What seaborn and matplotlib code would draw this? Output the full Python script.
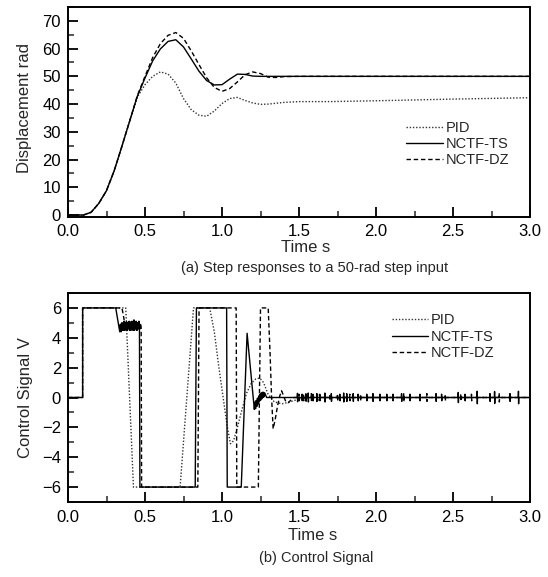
import numpy as np
import pandas as pd
import matplotlib
matplotlib.use("Agg")
import matplotlib.pyplot as plt
import seaborn as sns
from matplotlib.ticker import MultipleLocator

sns.set_style("white")
plt.rcParams['font.family'] = ['Liberation Sans', 'DejaVu Sans']

# ---------------- (a) step responses ----------------
t_step = [0.00, 0.10, 0.15, 0.20, 0.25, 0.30, 0.35, 0.40, 0.45, 0.50, 0.55, 0.60,
          0.65, 0.70, 0.75, 0.80, 0.85, 0.90, 0.95, 1.00, 1.05, 1.10, 1.15, 1.20,
          1.25, 1.30, 1.35, 1.40, 1.50, 1.70, 2.00, 2.50, 3.00]
y_pid = [0, 0, 1.0, 4.2, 8.8, 16.0, 24.8, 33.8, 42.5, 47.0, 50.0, 51.6,
         50.8, 47.6, 42.0, 38.0, 36.0, 35.6, 37.5, 40.2, 42.0, 42.4, 41.3, 40.4,
         39.9, 40.0, 40.3, 40.6, 40.9, 40.9, 41.2, 41.8, 42.3]
y_ts = [0, 0, 1.0, 4.2, 8.8, 16.0, 24.8, 33.8, 42.8, 49.4, 55.6, 59.9,
        62.6, 63.2, 60.6, 56.3, 51.9, 48.5, 46.9, 47.0, 49.0, 50.8, 50.7, 50.1,
        50.0, 50.0, 50.0, 50.0, 50.0, 50.0, 50.0, 50.0, 50.0]
y_dz = [0, 0, 1.0, 4.2, 8.8, 16.0, 24.8, 33.8, 43.0, 50.0, 56.8, 61.8,
        64.8, 65.8, 63.7, 59.2, 54.3, 49.5, 46.0, 44.6, 45.6, 48.0, 50.6, 51.6,
        51.0, 49.7, 49.6, 49.9, 50.0, 50.0, 50.0, 50.0, 50.0]

# ---------------- (b) control signals ----------------
t_u_pid = [0, 0.095, 0.095, 0.375, 0.425, 0.728, 0.815, 0.92, 0.95, 0.98, 1.01,
           1.035, 1.055, 1.075, 1.10, 1.13, 1.16, 1.19, 1.22, 1.245, 1.27, 1.30,
           1.34, 1.39, 1.44, 1.50, 1.56, 3.0]
u_pid = [0, 0, 6, 6, -6, -6, 6, 6, 4.4, 2.0, -0.2,
         -2.0, -3.1, -2.9, -2.0, -0.8, 0.3, 0.95, 1.25, 1.3, 1.0, 0.2,
         -0.3, -0.42, -0.3, -0.1, 0, 0]

t_u_ts = [0, 0.095, 0.095, 0.310, 0.318, 0.326, 0.332,
          0.336, 0.340, 0.344, 0.348, 0.352, 0.356, 0.360, 0.364, 0.368, 0.372,
          0.376, 0.380, 0.384, 0.388, 0.392, 0.396, 0.400, 0.404, 0.408, 0.412,
          0.416, 0.420, 0.424, 0.428, 0.432, 0.436, 0.440, 0.444, 0.448, 0.452,
          0.456, 0.460, 0.464, 0.467, 0.826, 0.834, 1.030, 1.034, 1.125, 1.163,
          1.210, 1.214, 1.218, 1.222, 1.226, 1.230, 1.234, 1.238, 1.242, 1.246,
          1.250, 1.254, 1.258, 1.262, 1.266, 1.270, 1.274, 1.278, 1.290, 1.480]
u_ts = [0, 0, 6, 6, 5.5, 5.0, 4.6,
        4.4, 4.9, 4.4, 5.0, 4.5, 5.0, 4.5, 5.1, 4.5, 5.0,
        4.6, 5.1, 4.5, 5.0, 4.6, 5.1, 4.5, 5.0, 4.6, 5.1,
        4.5, 5.0, 4.6, 5.2, 4.5, 5.0, 4.6, 5.1, 4.5, 5.0,
        4.6, 5.1, 4.7, -6.0, -6.0, 6.0, 6.0, -6.0, -6.0, 4.3,
        -0.8, -0.3, -0.75, -0.2, -0.6, -0.05, -0.45, 0.1, -0.3, 0.2,
        -0.2, 0.3, -0.1, 0.35, 0.0, 0.35, 0.05, 0.3, 0.0, 0.0]
spike_t_ts = [1.49, 1.52, 1.545, 1.56, 1.59, 1.615, 1.635, 1.668, 1.71, 1.765,
              1.79, 1.81, 1.852, 1.884, 1.94, 1.98, 2.025, 2.07, 2.11, 2.166,
              2.22, 2.285, 2.39, 2.426, 2.534, 2.578, 2.657, 2.74, 2.77, 2.87, 2.925]
spike_a_ts = [0.28, 0.22, 0.25, 0.3, 0.22, 0.26, 0.22, 0.3, 0.26, 0.22,
              0.3, 0.26, 0.26, 0.22, 0.22, 0.26, 0.22, 0.22, 0.22, 0.26,
              0.22, 0.22, 0.26, 0.22, 0.34, 0.22, 0.42, 0.26, 0.4, 0.26, 0.42]

t_u_dz = [0, 0.095, 0.095, 0.350, 0.358, 0.366, 0.372,
          0.376, 0.381, 0.386, 0.391, 0.396, 0.401, 0.406, 0.411, 0.416, 0.421,
          0.426, 0.431, 0.436, 0.441, 0.446, 0.451, 0.456, 0.461, 0.466, 0.471,
          0.475, 0.478, 0.843, 0.851, 1.092, 1.096, 1.236, 1.250, 1.300, 1.312,
          1.322, 1.332, 1.345, 1.360, 1.375, 1.387, 1.400, 1.415, 1.430, 1.450, 1.465]
u_dz = [0, 0, 6, 6, 5.6, 5.1, 4.7,
        4.5, 5.0, 4.5, 5.0, 4.6, 5.1, 4.5, 5.0, 4.6, 5.1,
        4.5, 5.0, 4.6, 5.1, 4.5, 5.0, 4.6, 5.1, 4.5, 5.0,
        4.7, -6.0, -6.0, 6.0, 6.0, -6.0, -6.0, 6.0, 6.0, 3.0,
        0.0, -2.1, -1.5, -0.6, 0.1, 0.45, 0.1, -0.3, -0.35, -0.15, 0.0]
spike_t_dz = [1.50, 1.53, 1.58, 1.62, 1.70, 1.75, 1.83, 1.90, 2.18, 2.33,
              2.45, 2.55, 2.62, 2.80]
spike_a_dz = [0.22, 0.22, 0.26, 0.22, 0.22, 0.26, 0.22, 0.22, 0.3, 0.26,
              0.22, 0.26, 0.22, 0.3]

labels = ["PID", "NCTF-TS", "NCTF-DZ"]


def add_spikes(t, u, st, sa, t_end=3.0):
    tt, uu = list(t), list(u)
    for s, a in zip(st, sa):
        tt += [s - 0.001, s, s + 0.001, s + 0.002]
        uu += [0.0, a, -a, 0.0]
    tt.append(t_end)
    uu.append(0.0)
    return tt, uu


t_ts_full, u_ts_full = add_spikes(t_u_ts, u_ts, spike_t_ts, spike_a_ts)
t_dz_full, u_dz_full = add_spikes(t_u_dz, u_dz, spike_t_dz, spike_a_dz)

W, H = 548, 577
fig = plt.figure(figsize=(W / 100, H / 100), dpi=100)
ax1 = fig.add_axes([68 / W, 1 - 217 / H, 462 / W, 210 / H])
ax2 = fig.add_axes([68 / W, 1 - 502 / H, 462 / W, 209 / H])

dot_style = dict(color="#333333", lw=1.0, linestyle=(0, (1, 1.3)))
solid_style = dict(color="black", lw=1.0, linestyle="-")
dash_style = dict(color="black", lw=1.0, linestyle=(0, (3.2, 2.0)))

kw = dict(estimator=None, sort=False, errorbar=None)
sns.lineplot(x=t_step, y=y_pid, ax=ax1, label=labels[0], **dot_style, **kw)
sns.lineplot(x=t_step, y=y_ts, ax=ax1, label=labels[1], **solid_style, **kw)
sns.lineplot(x=t_step, y=y_dz, ax=ax1, label=labels[2], **dash_style, **kw)

sns.lineplot(x=t_u_pid, y=u_pid, ax=ax2, label=labels[0], **dot_style, **kw)
sns.lineplot(x=t_ts_full, y=u_ts_full, ax=ax2, label=labels[1], **solid_style, **kw)
sns.lineplot(x=t_dz_full, y=u_dz_full, ax=ax2, label=labels[2], **dash_style, **kw)

ax1.set_xlim(0, 3)
ax1.set_ylim(-0.7, 75)
ax1.yaxis.set_major_locator(MultipleLocator(10))
ax1.yaxis.set_minor_locator(MultipleLocator(5))
ax2.set_xlim(0, 3)
ax2.set_ylim(-7, 7)
ax2.yaxis.set_major_locator(MultipleLocator(2))
ax2.yaxis.set_minor_locator(MultipleLocator(1))

for ax in (ax1, ax2):
    ax.xaxis.set_major_locator(MultipleLocator(0.5))
    ax.xaxis.set_minor_locator(MultipleLocator(0.25))
    ax.xaxis.set_major_formatter(matplotlib.ticker.FormatStrFormatter('%.1f'))
    ax.tick_params(which="major", direction="in", length=7, width=1.3,
                   labelsize=12, bottom=True, left=True, top=False, right=False,
                   colors="black")
    ax.tick_params(which="minor", direction="in", length=4, width=1.1,
                   bottom=True, left=True, top=False, right=False)
    ax.tick_params(axis="y", which="major", pad=5)
    for sp in ax.spines.values():
        sp.set_linewidth(1.4)
        sp.set_color("black")
    ax.set_xlabel("Time s", fontsize=12)

ax1.tick_params(axis="x", which="major", pad=5)
ax2.tick_params(axis="x", which="major", pad=5.5)

ax1.set_ylabel("Displacement rad", fontsize=12)
ax2.set_ylabel("Control Signal V", fontsize=12)
ax1.yaxis.set_label_coords(-0.078, 0.52)
ax2.yaxis.set_label_coords(-0.076, 0.5)
ax1.xaxis.set_label_coords(0.515, -0.11)
ax2.xaxis.set_label_coords(0.53, -0.125)

leg_kw = dict(frameon=False, fontsize=10.5, handlelength=2.5, handletextpad=0.2,
              labelspacing=0.15, borderpad=0, borderaxespad=0, loc="center left")
ax1.legend(bbox_to_anchor=(0.732, 0.348), **leg_kw)
ax2.legend(bbox_to_anchor=(0.701, 0.791), **leg_kw)

fig.text(315 / W, 1 - 268 / H, "(a) Step responses to a 50-rad step input",
         ha="center", va="center", fontsize=10.5)
fig.text(316 / W, 1 - 558 / H, "(b) Control Signal",
         ha="center", va="center", fontsize=10.5)

fig.savefig("out.png", dpi=100)
